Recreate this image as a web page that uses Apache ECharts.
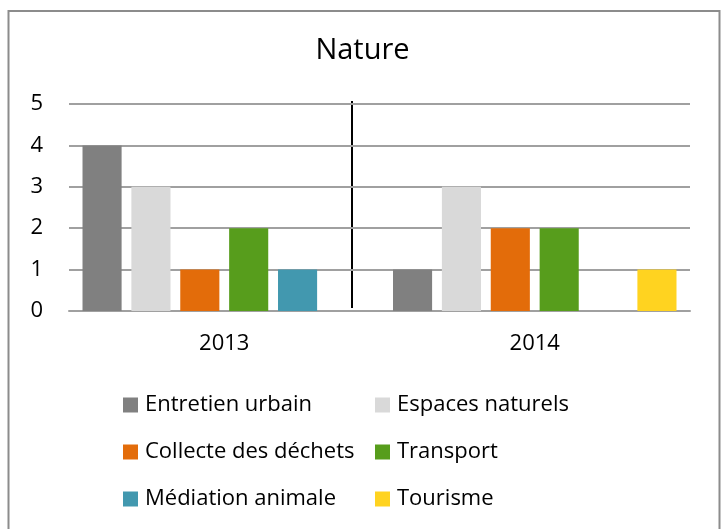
<!DOCTYPE html>
<html>
<head>
<meta charset="utf-8">
<script src="https://cdn.jsdelivr.net/npm/echarts@6/dist/echarts.min.js"></script>
<style>
	html, body { margin: 0; padding: 0; background: #fff; }
	#chart { width: 725px; height: 529px; }
</style>
</head>
<body>
<div id="chart"></div>
<script>
	// data
	var years = ['2013', '2014'];
	var seriesNames = ['Entretien urbain', 'Espaces naturels', 'Collecte des déchets', 'Transport', 'Médiation animale', 'Tourisme'];
	var entretien = [4, 1];
	var espaces = [3, 3];
	var collecte = [1, 2];
	var transport = [2, 2];
	var mediation = [1, 0];
	var tourisme = [0, 1];
	var colors = ['#808080', '#d9d9d9', '#e36c0a', '#579d1c', '#4298af', '#ffd320'];

	var values = [entretien, espaces, collecte, transport, mediation, tourisme];
	var font = '"Open Sans", sans-serif';

	var chart = echarts.init(document.getElementById('chart'));

	var series = [];
	for (var i = 0; i < seriesNames.length; i++) {
		series.push({
			name: seriesNames[i],
			type: 'bar',
			data: values[i],
			itemStyle: { color: colors[i] },
			barGap: '25%',
			barCategoryGap: '8.7%'
		});
	}

	function legendFor(names, left) {
		return {
			orient: 'vertical',
			left: left,
			top: 389,
			itemWidth: 15,
			itemHeight: 15,
			itemGap: 25,
			icon: 'rect',
			data: names,
			textStyle: { fontFamily: font, fontSize: 22, color: '#000', padding: [0, 0, 0, 2] }
		};
	}

	chart.setOption({
		animation: false,
		title: {
			text: 'Nature',
			left: 'center',
			top: 31,
			textStyle: { fontFamily: font, fontSize: 29, fontWeight: 'normal', color: '#000' }
		},
		legend: [
			legendFor([seriesNames[0], seriesNames[2], seriesNames[4]], 118),
			legendFor([seriesNames[1], seriesNames[3], seriesNames[5]], 370)
		],
		grid: { left: 69, right: 35, top: 104, height: 207 },
		xAxis: {
			type: 'category',
			data: years,
			axisLine: { lineStyle: { color: '#a0a0a0', width: 2 } },
			axisTick: { show: false },
			axisLabel: { fontFamily: font, fontSize: 22, color: '#000', margin: 22 }
		},
		yAxis: {
			type: 'value',
			min: 0,
			max: 5,
			interval: 1,
			axisLine: { show: false },
			axisTick: { show: false },
			axisLabel: { fontFamily: font, fontSize: 22, color: '#000', margin: 26 },
			splitLine: { lineStyle: { color: '#a0a0a0', width: 2 } }
		},
		series: series,
		graphic: [
			{
				type: 'rect',
				shape: { x: 8.5, y: 11, width: 711, height: 530 },
				style: { fill: null, stroke: '#8c8c8c', lineWidth: 2 },
				silent: true
			},
			{
				// hand-drawn separator between the years
				type: 'line',
				shape: { x1: 352, y1: 101, x2: 352, y2: 308 },
				style: { stroke: '#000', lineWidth: 2 },
				silent: true
			}
		]
	});
</script>
</body>
</html>
